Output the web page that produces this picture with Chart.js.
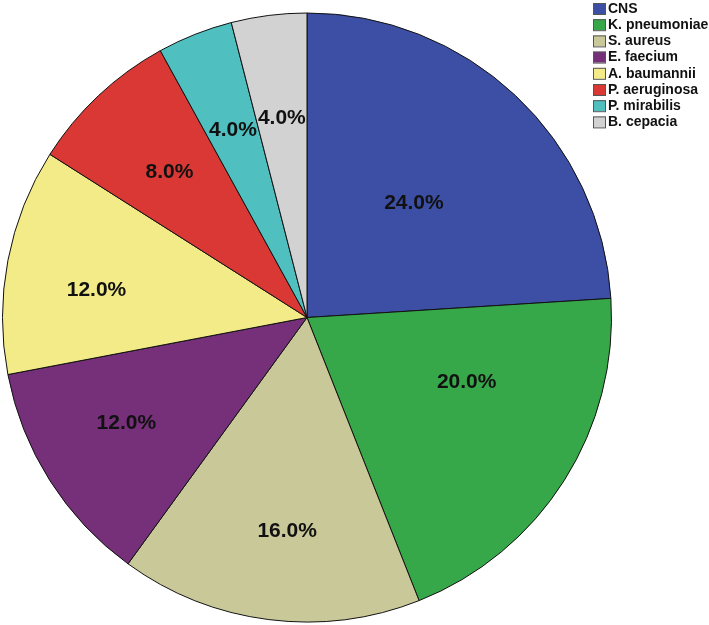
<!DOCTYPE html>
<html>
<head>
<meta charset="utf-8">
<script src="https://cdn.jsdelivr.net/npm/chart.js@4.4.1/dist/chart.umd.min.js"></script>
<style>
  html, body { margin: 0; padding: 0; background: #fff; }
  #wrap { width: 709px; height: 625px; }
</style>
</head>
<body>
<div id="wrap"><canvas id="grafico" width="709" height="625"></canvas></div>
<script>
// Datos del gráfico
const categorias = ['CNS', 'K. pneumoniae', 'S. aureus', 'E. faecium', 'A. baumannii', 'P. aeruginosa', 'P. mirabilis', 'B. cepacia'];
const porcentajes = [24, 20, 16, 12, 12, 8, 4, 4];
const colores = ['#3c4fa5', '#37a84a', '#c9c898', '#76307a', '#f3eb87', '#da3835', '#4fbfc0', '#d2d2d2'];

// Posición de las etiquetas dentro de cada sector: [fracción del ángulo, fracción del radio]
const posEtiquetas = [[0.5, 0.513], [0.357, 0.566], [0.467, 0.705], [0.546, 0.688], [0.42, 0.697], [0.49, 0.656], [0.5, 0.66], [0.5, 0.66]];

const etiquetasPlugin = {
    id: 'etiquetas',
    afterDatasetsDraw(chart) {
        const ctx = chart.ctx;
        const meta = chart.getDatasetMeta(0);
        const total = porcentajes.reduce((a, b) => a + b, 0);
        ctx.save();
        ctx.font = 'bold 21px "Liberation Sans", Arial, sans-serif';
        ctx.fillStyle = '#111';
        ctx.textAlign = 'center';
        ctx.textBaseline = 'middle';
        meta.data.forEach((arc, i) => {
            const p = posEtiquetas[i];
            const ang = arc.startAngle + p[0] * (arc.endAngle - arc.startAngle);
            const r = p[1] * arc.outerRadius;
            const texto = (porcentajes[i] / total * 100).toFixed(1) + '%';
            ctx.fillText(texto, arc.x + Math.cos(ang) * r, arc.y + Math.sin(ang) * r);
        });
        ctx.restore();
    }
};

const leyendaPlugin = {
    id: 'leyenda',
    afterDraw(chart) {
        const ctx = chart.ctx;
        ctx.save();
        ctx.font = 'bold 14px "Liberation Sans", Arial, sans-serif';
        ctx.textBaseline = 'middle';
        ctx.textAlign = 'left';
        categorias.forEach((cat, i) => {
            const yc = 8.5 + i * 16.2;
            ctx.fillStyle = colores[i];
            ctx.fillRect(593, yc - 5.5, 13, 11);
            ctx.strokeStyle = '#555';
            ctx.lineWidth = 1;
            ctx.strokeRect(593.5, yc - 5, 12, 11);
            ctx.fillStyle = '#111';
            ctx.fillText(cat, 608, yc + 0.5);
        });
        ctx.restore();
    }
};

new Chart(document.getElementById('grafico').getContext('2d'), {
    type: 'pie',
    data: {
        labels: categorias,
        datasets: [{
            data: porcentajes,
            backgroundColor: colores,
            borderColor: '#111',
            borderWidth: 1
        }]
    },
    options: {
        responsive: false,
        animation: false,
        layout: { padding: { left: 2, top: 12, right: 97, bottom: 2 } },
        plugins: {
            legend: { display: false },
            tooltip: { enabled: false }
        }
    },
    plugins: [etiquetasPlugin, leyendaPlugin]
});
</script>
</body>
</html>
